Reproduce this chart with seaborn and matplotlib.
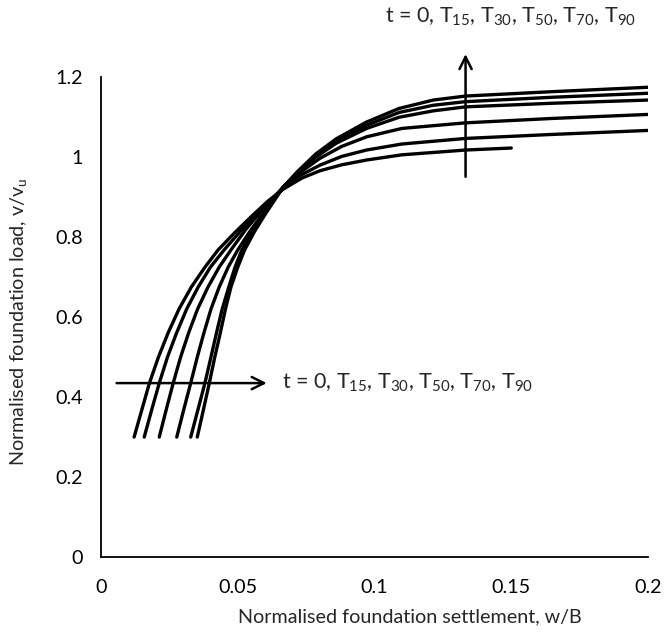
import matplotlib
matplotlib.use("Agg")
import matplotlib.pyplot as plt
import seaborn as sns
import pandas as pd

# Curves (x = w/B, y = v/vu)
t0_x = [0.0121, 0.0150, 0.0177, 0.0210, 0.0245, 0.0285, 0.0330, 0.0380, 0.0428, 0.0490, 0.0555, 0.0610, 0.0666, 0.0735, 0.0800, 0.0880, 0.0971, 0.1100, 0.1333, 0.1500]
t0_y = [0.300, 0.370, 0.435, 0.500, 0.560, 0.620, 0.675, 0.725, 0.768, 0.812, 0.855, 0.890, 0.920, 0.948, 0.966, 0.981, 0.993, 1.006, 1.018, 1.023]

t15_x = [0.0158, 0.0186, 0.0213, 0.0243, 0.0276, 0.0313, 0.0355, 0.0400, 0.0450, 0.0510, 0.0570, 0.0620, 0.0666, 0.0730, 0.0800, 0.0880, 0.0971, 0.1100, 0.1333, 0.1650, 0.2000]
t15_y = [0.300, 0.370, 0.435, 0.500, 0.560, 0.620, 0.675, 0.725, 0.768, 0.815, 0.857, 0.892, 0.921, 0.955, 0.980, 1.002, 1.018, 1.033, 1.047, 1.057, 1.067]

t30_x = [0.0213, 0.0239, 0.0264, 0.0291, 0.0320, 0.0353, 0.0391, 0.0432, 0.0475, 0.0530, 0.0580, 0.0625, 0.0666, 0.0730, 0.0800, 0.0880, 0.0971, 0.1100, 0.1333, 0.1650, 0.2000]
t30_y = [0.300, 0.370, 0.435, 0.500, 0.560, 0.620, 0.675, 0.725, 0.768, 0.820, 0.860, 0.895, 0.925, 0.963, 0.997, 1.027, 1.051, 1.072, 1.086, 1.097, 1.107]

t50_x = [0.0277, 0.0303, 0.0328, 0.0352, 0.0376, 0.0402, 0.0432, 0.0465, 0.0500, 0.0545, 0.0590, 0.0630, 0.0666, 0.0720, 0.0785, 0.0860, 0.0971, 0.1090, 0.1215, 0.1333, 0.1650, 0.2000]
t50_y = [0.300, 0.370, 0.435, 0.500, 0.560, 0.620, 0.675, 0.725, 0.768, 0.815, 0.857, 0.893, 0.925, 0.963, 1.000, 1.035, 1.072, 1.100, 1.116, 1.126, 1.135, 1.143]

t70_x = [0.0328, 0.0355, 0.0380, 0.0402, 0.0422, 0.0443, 0.0467, 0.0490, 0.0515, 0.0555, 0.0595, 0.0632, 0.0666, 0.0720, 0.0785, 0.0860, 0.0971, 0.1090, 0.1215, 0.1333, 0.1650, 0.2000]
t70_y = [0.300, 0.370, 0.435, 0.500, 0.560, 0.620, 0.675, 0.725, 0.768, 0.818, 0.860, 0.895, 0.925, 0.964, 1.004, 1.041, 1.080, 1.112, 1.130, 1.139, 1.150, 1.160]

t90_x = [0.0352, 0.0375, 0.0396, 0.0416, 0.0436, 0.0455, 0.0475, 0.0500, 0.0525, 0.0562, 0.0600, 0.0635, 0.0666, 0.0720, 0.0785, 0.0860, 0.0971, 0.1090, 0.1215, 0.1333, 0.1650, 0.2000]
t90_y = [0.300, 0.370, 0.435, 0.500, 0.560, 0.620, 0.675, 0.725, 0.768, 0.815, 0.857, 0.893, 0.925, 0.965, 1.008, 1.046, 1.088, 1.122, 1.143, 1.153, 1.164, 1.175]

curve_names = ["t0", "T15", "T30", "T50", "T70", "T90"]
xs = [t0_x, t15_x, t30_x, t50_x, t70_x, t90_x]
ys = [t0_y, t15_y, t30_y, t50_y, t70_y, t90_y]

x_ticks = [0, 0.05, 0.1, 0.15, 0.2]
x_tick_labels = ["0", "0.05", "0.1", "0.15", "0.2"]
y_ticks = [0, 0.2, 0.4, 0.6, 0.8, 1.0, 1.2]
y_tick_labels = ["0", "0.2", "0.4", "0.6", "0.8", "1", "1.2"]

label_text = "t = 0, T$_{15}$, T$_{30}$, T$_{50}$, T$_{70}$, T$_{90}$"

rows = []
for name, cx, cy in zip(curve_names, xs, ys):
    for i, (a, b) in enumerate(zip(cx, cy)):
        rows.append({"curve": name, "order": i, "x": a, "y": b})
df = pd.DataFrame(rows)

sns.set_style("white")
plt.rcParams["font.family"] = ["Lato", "DejaVu Sans"]
plt.rcParams["mathtext.fontset"] = "custom"
plt.rcParams["mathtext.rm"] = "Lato"
plt.rcParams["mathtext.it"] = "Lato:italic"
plt.rcParams["mathtext.default"] = "rm"

FS = 14.2
FS_ANN = 15.5

fig = plt.figure(figsize=(6.65, 6.37), dpi=100)
ax = fig.add_axes([0.1519, 0.1256, 0.8225, 0.7531])

sns.lineplot(data=df, x="x", y="y", units="curve", estimator=None, sort=False,
             color="black", linewidth=2.4, ax=ax, legend=False)

ax.set_xlim(0, 0.2)
ax.set_ylim(0, 1.2)
ax.set_xticks(x_ticks)
ax.set_xticklabels(x_tick_labels)
ax.set_yticks(y_ticks)
ax.set_yticklabels(y_tick_labels)
ax.tick_params(axis="both", direction="out", length=6, width=1.2, labelsize=FS,
               color="black", labelcolor="black", pad=7)
ax.tick_params(axis="x", pad=10)
for s in ["top", "right"]:
    ax.spines[s].set_visible(False)
for s in ["left", "bottom"]:
    ax.spines[s].set_color("black")
    ax.spines[s].set_linewidth(1.3)

ax.set_xlabel("Normalised foundation settlement, w/B", fontsize=FS)
ax.set_ylabel("Normalised foundation load, v/v$_{\\mathrm{u}}$", fontsize=FS)
ax.xaxis.set_label_coords(0.565, -0.108)
ax.yaxis.set_label_coords(-0.132, 0.49)

# Arrows and annotation labels
ax.annotate("", xy=(0.0606, 0.435), xytext=(0.0057, 0.435),
            arrowprops=dict(arrowstyle="->", color="black", lw=1.8,
                            mutation_scale=22, shrinkA=0, shrinkB=0))
ax.text(0.066, 0.435, label_text, fontsize=FS_ANN, va="center", ha="left")

ax.annotate("", xy=(0.1333, 1.258), xytext=(0.1333, 0.951),
            arrowprops=dict(arrowstyle="->", color="black", lw=1.8,
                            mutation_scale=22, shrinkA=0, shrinkB=0),
            annotation_clip=False)
ax.text(0.1040, 1.35, label_text, fontsize=FS_ANN, va="center", ha="left", clip_on=False)

fig.savefig("out.png", dpi=100)
